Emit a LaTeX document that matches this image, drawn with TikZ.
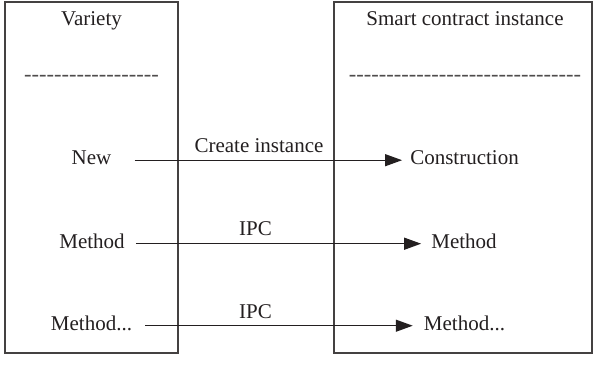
\documentclass[tikz,border=0pt]{standalone}
\usepackage{fontspec}
\setmainfont{Liberation Serif}
\newfontfamily\dashfont{Liberation Serif}
\usetikzlibrary{arrows.meta}
\definecolor{ink}{HTML}{231F20}
\begin{document}
\begin{tikzpicture}[x=1pt,y=-1pt,
  every node/.style={font=\fontsize{21}{25}\selectfont,text=ink,inner sep=0pt,anchor=base},
  boxline/.style={draw=ink!85,line width=1.2pt},
  arr/.style={draw=ink,line width=1.3pt,-{Triangle[length=17pt,width=12pt]}},
  dashtext/.style={font=\dashfont\fontsize{22.5}{25}\selectfont,text=ink!80}]
\useasboundingbox (0,0) rectangle (593,366);
\draw[boxline] (5,2) rectangle (178,353);
\draw[boxline] (334,2) rectangle (592,353);
\node (variety) at (91.5,25.5) {Variety};
\node (smart) at (465,25.5) {Smart contract instance};
\node[dashtext] (dl) at (91.5,82) {------------------};
\node[dashtext] (dr) at (465,82) {-------------------------------};
\node (new) at (91.5,164.5) {New};
\node (meth) at (92,248) {Method};
\node (methd) at (91.5,330) {Method...};
\node (constr) at (464.5,164.5) {Construction};
\node (rmeth) at (464,248) {Method};
\node (rmethd) at (464.5,330) {Method...};
\node (lab1) at (259,153) {Create instance};
\node (lab2) at (255.5,235.5) {IPC};
\node (lab3) at (255.5,318.5) {IPC};
\draw[arr] ([xshift=23pt,yshift=2pt]new.mid east) -- ([xshift=-8pt,yshift=2pt]constr.mid west);
\draw[arr] ([xshift=11pt,yshift=2pt]meth.mid east) -- ([xshift=-10pt,yshift=2pt]rmeth.mid west);
\draw[arr] ([xshift=13pt,yshift=2pt]methd.mid east) -- ([xshift=-11pt,yshift=2pt]rmethd.mid west);
\end{tikzpicture}
\end{document}
